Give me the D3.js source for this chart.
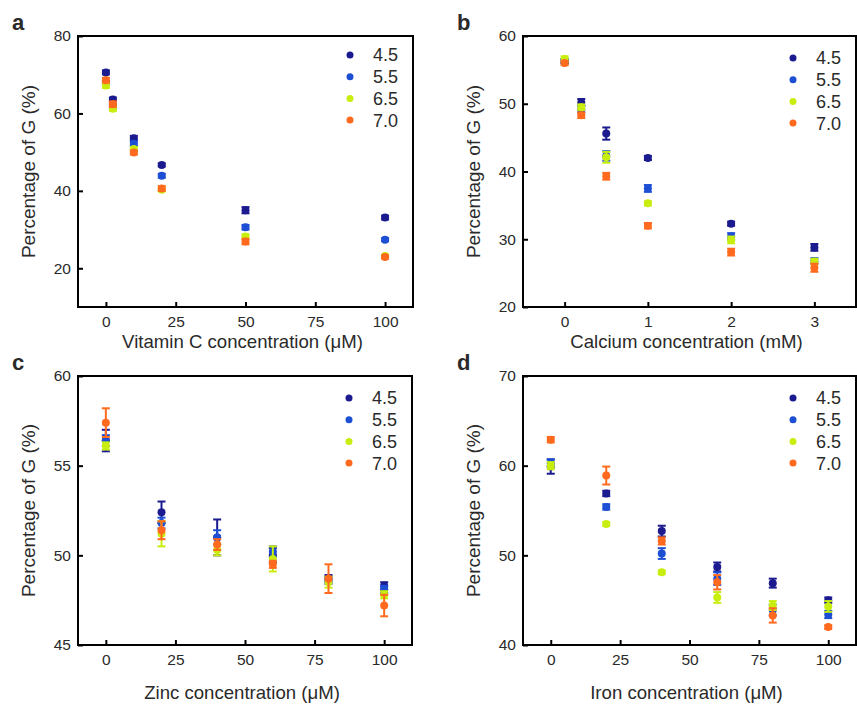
<!DOCTYPE html>
<html><head><meta charset="utf-8">
<script src="https://cdn.jsdelivr.net/npm/d3@7"></script>
<style>body{margin:0;background:#fff}svg{display:block}text{font-family:"Liberation Sans",Arial,sans-serif;fill:#2a2a2a}</style>
</head><body><svg id="c" width="857" height="704"></svg>
<script>
const seriesNames = ["4.5", "5.5", "6.5", "7.0"];
const seriesColors = ["#1b1b8f", "#1d4fd4", "#c8ee10", "#ff6a1e"];

const vitCX = [0, 2.5, 10, 20, 50, 100];
const vitC45 = [70.6, 63.6, 53.6, 46.7, 35.0, 33.1];
const vitC55 = [67.8, 61.8, 52.2, 43.9, 30.6, 27.4];
const vitC65 = [67.2, 61.2, 50.8, 40.3, 28.2, 23.2];
const vitC70 = [68.6, 62.4, 49.9, 40.6, 26.9, 22.9];
const vitCErr45 = [0.5, 0.5, 0.6, 0.4, 0.8, 0.5];
const vitCErr55 = [0.5, 0.6, 0.6, 0.5, 0.6, 0.4];
const vitCErr65 = [0.6, 0.5, 0.5, 0.4, 0.6, 0.3];
const vitCErr70 = [0.6, 0.7, 0.5, 0.6, 0.7, 0.4];

const caX = [0, 0.2, 0.5, 1, 2, 3];
const ca45 = [56.3, 50.2, 45.6, 42.0, 32.3, 28.8];
const ca55 = [56.3, 49.2, 42.3, 37.5, 30.4, 26.8];
const ca65 = [56.6, 49.5, 42.1, 35.3, 29.9, 26.7];
const ca70 = [56.0, 48.3, 39.3, 32.0, 28.1, 25.8];
const caErr45 = [0.3, 0.5, 0.9, 0.3, 0.3, 0.5];
const caErr55 = [0.3, 0.5, 0.7, 0.5, 0.5, 0.4];
const caErr65 = [0.4, 0.4, 0.8, 0.3, 0.5, 0.4];
const caErr70 = [0.3, 0.4, 0.5, 0.4, 0.5, 0.6];

const znX = [0, 20, 40, 60, 80, 100];
const zn45 = [56.4, 52.4, 51.0, 50.0, 48.7, 48.3];
const zn55 = [56.4, 51.8, 51.0, 50.2, 48.6, 48.1];
const zn65 = [56.1, 51.2, 50.3, 49.8, 48.5, 47.8];
const zn70 = [57.4, 51.4, 50.6, 49.5, 48.7, 47.2];
const znErr45 = [0.6, 0.6, 1.0, 0.4, 0.2, 0.2];
const znErr55 = [0.3, 0.3, 0.4, 0.3, 0.2, 0.2];
const znErr65 = [0.2, 0.7, 0.3, 0.7, 0.3, 0.2];
const znErr70 = [0.8, 0.5, 0.3, 0.2, 0.8, 0.6];

const feX = [0, 20, 40, 60, 80, 100];
const fe45 = [59.9, 56.9, 52.7, 48.7, 46.9, 45.0];
const fe55 = [60.3, 55.4, 50.2, 47.4, 43.9, 43.4];
const fe65 = [60.0, 53.5, 48.1, 45.3, 44.4, 44.3];
const fe70 = [62.9, 58.9, 51.6, 47.0, 43.3, 42.0];
const feErr45 = [0.8, 0.3, 0.6, 0.5, 0.5, 0.3];
const feErr55 = [0.4, 0.3, 0.6, 0.7, 0.6, 0.4];
const feErr65 = [0.4, 0.2, 0.2, 0.6, 0.5, 0.6];
const feErr70 = [0.3, 1.0, 0.4, 0.8, 0.8, 0.2];

const xTicksUM = [0, 25, 50, 75, 100];
const xTicksCa = [0, 1, 2, 3];

const panels = [
  {label: "a", box: [78, 413, 36, 307], xDom: [-10, 110], yDom: [10, 80], xTicks: xTicksUM, yTicks: [20, 40, 60, 80],
   xTitle: "Vitamin C concentration (\u03bcM)", xTitleY: 348, legTop: 19,
   x: vitCX, ys: [vitC45, vitC55, vitC65, vitC70], errs: [vitCErr45, vitCErr55, vitCErr65, vitCErr70]},
  {label: "b", box: [523, 856, 36, 307], xDom: [-0.5, 3.5], yDom: [20, 60], xTicks: xTicksCa, yTicks: [20, 30, 40, 50, 60],
   xTitle: "Calcium concentration (mM)", xTitleY: 348, legTop: 22,
   x: caX, ys: [ca45, ca55, ca65, ca70], errs: [caErr45, caErr55, caErr65, caErr70]},
  {label: "c", box: [78, 412, 376, 645], xDom: [-10, 110], yDom: [45, 60], xTicks: xTicksUM, yTicks: [45, 50, 55, 60],
   xTitle: "Zinc concentration (\u03bcM)", xTitleY: 699, legTop: 22,
   x: znX, ys: [zn45, zn55, zn65, zn70], errs: [znErr45, znErr55, znErr65, znErr70]},
  {label: "d", box: [523, 856, 376, 645], xDom: [-10, 110], yDom: [40, 70], xTicks: xTicksUM, yTicks: [40, 50, 60, 70],
   xTitle: "Iron concentration (\u03bcM)", xTitleY: 699, legTop: 22,
   x: feX, ys: [fe45, fe55, fe65, fe70], errs: [feErr45, feErr55, feErr65, feErr70]}
];

const svg = d3.select("#c");

panels.forEach(p => {
  const [L, R, T, B] = p.box;
  const x = d3.scaleLinear().domain(p.xDom).range([L, R]);
  const y = d3.scaleLinear().domain(p.yDom).range([B, T]);
  const g = svg.append("g");

  const xa = g.append("g").attr("transform", `translate(0,${B})`)
    .call(d3.axisBottom(x).tickValues(p.xTicks).tickSize(-5).tickPadding(9).tickFormat(d3.format("d")));
  const ya = g.append("g").attr("transform", `translate(${L},0)`)
    .call(d3.axisLeft(y).tickValues(p.yTicks).tickSize(-5).tickPadding(7).tickFormat(d3.format("d")));
  [xa, ya].forEach(a => {
    a.select(".domain").remove();
    a.selectAll(".tick line").attr("stroke", "#000").attr("stroke-width", 2);
    a.selectAll(".tick text").attr("font-size", 15.5).style("font-family", '"Liberation Sans",Arial,sans-serif').attr("fill", "#2a2a2a");
  });
  xa.selectAll(".tick text").attr("dy", "0.71em");

  g.append("rect").attr("x", L).attr("y", T).attr("width", R - L).attr("height", B - T)
    .attr("fill", "none").attr("stroke", "#000").attr("stroke-width", 2);

  p.ys.forEach((vals, si) => {
    const col = seriesColors[si];
    const sg = g.append("g");
    vals.forEach((v, i) => {
      const cx = x(p.x[i]), e = p.errs[si][i];
      const y1 = y(v + e), y2 = y(v - e);
      sg.append("line").attr("x1", cx).attr("x2", cx).attr("y1", y1).attr("y2", y2).attr("stroke", col).attr("stroke-width", 2);
      [y1, y2].forEach(yy => sg.append("line").attr("x1", cx - 4).attr("x2", cx + 4).attr("y1", yy).attr("y2", yy).attr("stroke", col).attr("stroke-width", 2));
      sg.append("circle").attr("cx", cx).attr("cy", y(v)).attr("r", 4).attr("fill", col);
    });
  });

  seriesNames.forEach((n, si) => {
    const ly = T + p.legTop + si * 21.7;
    g.append("circle").attr("cx", R - 63).attr("cy", ly).attr("r", 3.5).attr("fill", seriesColors[si]);
    g.append("text").attr("x", R - 40).attr("y", ly).attr("dy", "0.36em").attr("font-size", 18).text(n);
  });

  g.append("text").attr("x", (L + R) / 2 - 3).attr("y", p.xTitleY).attr("text-anchor", "middle")
    .attr("font-size", 18.6).text(p.xTitle);
  g.append("text").attr("transform", `translate(${L - 50},${(T + B) / 2}) rotate(-90)`).attr("text-anchor", "middle")
    .attr("dy", "0.36em").attr("font-size", 19).text("Percentage of G (%)");
  g.append("text").attr("x", L - 66).attr("y", T - 6).attr("font-size", 22).attr("font-weight", "bold")
    .attr("fill", "#111").text(p.label);
});
</script></body></html>
